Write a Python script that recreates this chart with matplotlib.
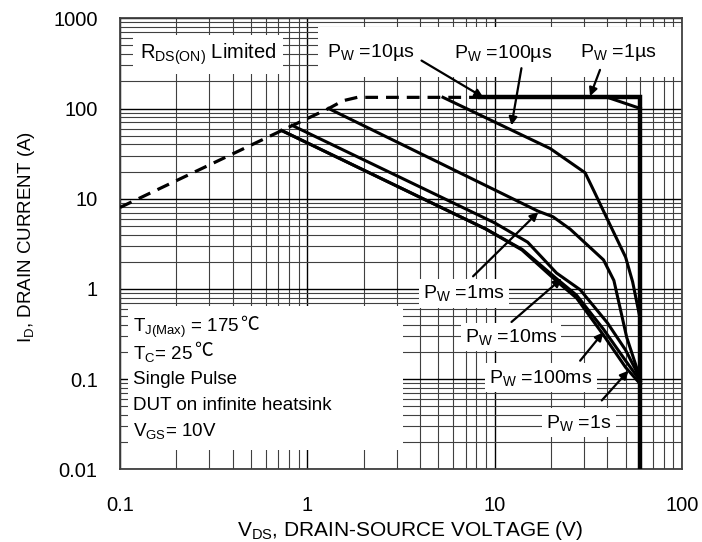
import numpy as np
import matplotlib
matplotlib.use('Agg')
import matplotlib.pyplot as plt
from matplotlib.patches import Rectangle
from matplotlib.ticker import LogLocator, NullFormatter

plt.rcParams['font.family'] = ['Liberation Sans', 'DejaVu Sans']
plt.rcParams['mathtext.fontset'] = 'custom'
plt.rcParams['mathtext.rm'] = 'Liberation Sans'
plt.rcParams['mathtext.it'] = 'Liberation Sans:italic'
plt.rcParams['mathtext.bf'] = 'Liberation Sans:bold'

# safe operating area
v_rds = [0.1, 0.73, 1.3, 1.55, 1.85, 8.4]
i_rds = [8.0, 57, 100, 122, 133, 133]

v_1us = [8.4, 60, 60]
i_1us = [133, 133, 0.01]

v_10us = [8.4, 40, 60]
i_10us = [133, 133, 100]

v_100us = [5.3, 19.8, 30.4, 34, 41, 50, 54.5, 60]
i_100us = [133, 36, 19.4, 12, 5.3, 2.25, 1.2, 0.45]

v_1ms = [1.3, 17, 20.5, 25.3, 38.1, 43.3, 50.7, 60]
i_1ms = [100, 7.3, 6.3, 4.6, 2.1, 1.24, 0.29, 0.1]

v_10ms = [0.83, 10, 15, 21.4, 28.6, 40, 50, 60]
i_10ms = [65, 5.4, 3.3, 1.5, 0.98, 0.42, 0.21, 0.1]

v_100ms = [0.73, 9, 14, 21.4, 27.4, 38, 50, 60]
i_100ms = [57, 4.6, 2.75, 1.3, 0.85, 0.36, 0.16, 0.095]

v_1s = [0.73, 9, 14, 21.4, 27.4, 38, 50, 60]
i_1s = [57, 4.6, 2.7, 1.22, 0.79, 0.31, 0.135, 0.088]

x_ticks = [0.1, 1, 10, 100]
x_labels = ['0.1', '1', '10', '100']
y_ticks = [0.01, 0.1, 1, 10, 100, 1000]
y_labels = ['0.01', '0.1', '1', '10', '100', '1000']

fig = plt.figure(figsize=(7.02, 5.42), dpi=100)
ax = fig.add_axes([0.1709, 0.1341, 0.8006, 0.8321])
ax.set_xscale('log')
ax.set_yscale('log')
ax.set_xlim(0.1, 100)
ax.set_ylim(0.01, 1000)

ax.set_xticks(x_ticks)
ax.set_xticklabels(x_labels)
ax.set_yticks(y_ticks)
ax.set_yticklabels(y_labels)
ax.xaxis.set_minor_locator(LogLocator(base=10, subs=np.arange(2, 10)))
ax.yaxis.set_minor_locator(LogLocator(base=10, subs=np.arange(2, 10)))
ax.xaxis.set_minor_formatter(NullFormatter())
ax.yaxis.set_minor_formatter(NullFormatter())
ax.tick_params(which='both', length=0, labelsize=14.5)
ax.tick_params(axis='x', pad=19)
ax.tick_params(axis='y', pad=16)

ax.grid(which='major', color='k', lw=1.0)
ax.grid(which='minor', color='0.25', lw=0.8)
ax.set_axisbelow(True)
for s in ax.spines.values():
    s.set_linewidth(1.3)
    s.set_color('0.25')

# white areas behind the labels
ax.add_patch(Rectangle((0.352, 0.869), 0.648, 0.112, transform=ax.transAxes,
                       facecolor='white', edgecolor='none', zorder=1.5))
ax.add_patch(Rectangle((0.014, 0.043), 0.49, 0.319, transform=ax.transAxes,
                       facecolor='white', edgecolor='none', zorder=1.5))

ax.plot(v_rds, i_rds, color='k', lw=2.3, ls=(0, (4, 2.5)), zorder=3)
ax.plot(v_1us, i_1us, color='k', lw=3.2, zorder=3, solid_joinstyle='miter')
ax.plot(v_10us, i_10us, color='k', lw=2.2, zorder=3)
ax.plot(v_100us, i_100us, color='k', lw=2.2, zorder=3)
ax.plot(v_1ms, i_1ms, color='k', lw=2.2, zorder=3)
ax.plot(v_10ms, i_10ms, color='k', lw=2.2, zorder=3)
ax.plot(v_100ms, i_100ms, color='k', lw=2.2, zorder=3)
ax.plot(v_1s, i_1s, color='k', lw=2.2, zorder=3)

box = dict(facecolor='white', edgecolor='none', pad=3)
fs = 14

ax.text(0.295, 400, r'R$_\mathregular{DS(ON)}$ Limited', fontsize=14.5,
        ha='center', va='center', bbox=dict(facecolor='white', edgecolor='none', pad=5), zorder=4)

labels = [
    (r'P$_\mathregular{W}$ =10µs', (2.19, 420), (8.7, 133), (4.07, 340)),
    (r'P$_\mathregular{W}$ =100µs', (11.1, 410), (12.3, 65), (13.9, 280)),
    (r'P$_\mathregular{W}$ =1µs', (45.6, 420), (32.3, 137), (36.5, 268)),
    (r'P$_\mathregular{W}$ =1ms', (6.87, 0.89), (17.1, 7.1), (7.67, 1.38)),
    (r'P$_\mathregular{W}$ =10ms', (12.2, 0.29), (22.8, 1.3), (12.3, 0.43)),
    (r'P$_\mathregular{W}$ =100ms', (17.7, 0.104), (38, 0.33), (28.6, 0.16)),
    (r'P$_\mathregular{W}$ =1s', (28.2, 0.033), (51.8, 0.124), (37.3, 0.058)),
]
for txt, pos, tip, tail in labels:
    ax.text(pos[0], pos[1], txt, fontsize=fs, ha='center', va='center',
            bbox=box, zorder=4)
    ax.annotate('', xy=tip, xytext=tail,
                arrowprops=dict(arrowstyle='-|>', color='k', lw=1.6,
                                mutation_scale=12, shrinkA=0, shrinkB=0),
                zorder=5)

cond = [
    (r'T$_\mathregular{J(Max)}$ = 175', True),
    (r'T$_\mathregular{C}$= 25', True),
    ('Single Pulse', False),
    ('DUT on infinite heatsink', False),
    (r'V$_\mathregular{GS}$= 10V', False),
]
for k, (line, celsius) in enumerate(cond):
    t = ax.text(0.023, 0.313 - k * 0.057, line, transform=ax.transAxes,
                fontsize=13.5, ha='left', va='center', zorder=4)
    if celsius:
        # degree celsius sign is not in Liberation Sans, put it on its own
        ax.annotate('℃', xy=(1, 0.5), xycoords=t, xytext=(1, 2.5),
                    textcoords='offset points', ha='left', va='center',
                    fontsize=13.5, family=['Noto Sans CJK JP', 'DejaVu Sans'],
                    zorder=4)

ax.set_xlabel(r'V$_\mathregular{DS}$, DRAIN-SOURCE VOLTAGE (V)', fontsize=15, labelpad=3)
ax.xaxis.label.set_x(0.516)
ax.set_ylabel(r'I$_\mathregular{D}$, DRAIN CURRENT (A)', fontsize=13.5, labelpad=12)
ax.yaxis.label.set_y(0.515)

fig.savefig('out.png', dpi=100)
